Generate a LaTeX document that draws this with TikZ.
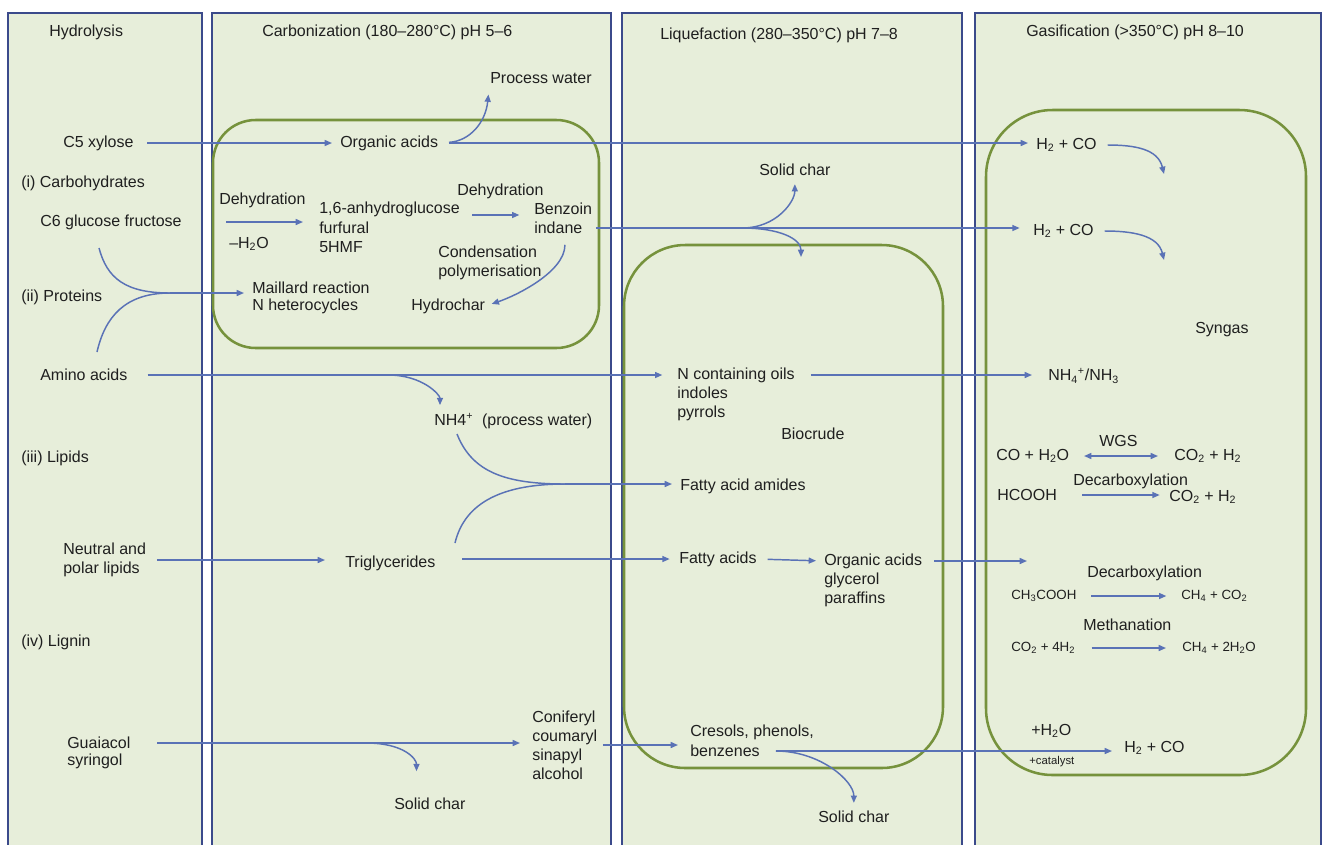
\documentclass[tikz,border=0pt]{standalone}
\usepackage{fontspec}
\setmainfont{Liberation Sans}
\usetikzlibrary{arrows.meta}
\definecolor{lanefill}{HTML}{E7EEDA}
\definecolor{laneblue}{HTML}{3B4A8B}
\definecolor{zonegreen}{HTML}{76923C}
\definecolor{flowblue}{HTML}{5A72B6}
\newcommand\chsub[1]{\textsubscript{#1}}
\newcommand\chsup[1]{\textsuperscript{#1}}
\tikzset{
  lane/.style={draw=laneblue, line width=1.5pt, fill=lanefill},
  zone/.style={draw=zonegreen, line width=1.9pt},
  lbl/.style={anchor=west, inner sep=0pt, align=left, text=black!88,
              font=\fontsize{12}{14.3}\selectfont},
  lblsmall/.style={lbl, font=\fontsize{10}{12}\selectfont},
  link/.style={draw=flowblue, line width=1.1pt},
  flow/.style={link, -{Triangle[length=5.5pt,width=4.5pt]},
               shorten <=8pt, shorten >=6pt},
  equil/.style={flow, {Triangle[length=5.5pt,width=4.5pt]}-{Triangle[length=5.5pt,width=4.5pt]}},
}

\begin{document}
\begin{tikzpicture}[x=0.75pt, y=-0.75pt]
\useasboundingbox (0,0) rectangle (1328,844);
% lanes
\begin{scope}
  \clip (0,0) rectangle (1328,844);
  \foreach \xa/\xb in {8/202, 212/611, 622/962, 975/1321}
    \draw[lane] (\xa,13) rectangle (\xb,860);
\end{scope}
\draw[zone, rounded corners=32pt] (213,120) rectangle (599,348);
\draw[zone, rounded corners=46pt] (624,245) rectangle (943,768);
\draw[zone, rounded corners=50pt] (986,110) rectangle (1306,775);

% headers
\node[lbl] (hyd) at (49,32) {Hydrolysis};
\node[lbl] (carb) at (262,32) {Carbonization (180–280°C) pH 5–6};
\node[lbl] (liq) at (660,35) {Liquefaction (280–350°C) pH 7–8};
\node[lbl] (gas) at (1026,32) {Gasification (>350°C) pH 8–10};

% hydrolysis
\node[lbl] (xyl) at (63,143) {C5 xylose};
\node[lbl] (chy) at (21,183) {(i) Carbohydrates};
\node[lbl] (glu) at (40,222) {C6 glucose fructose};
\node[lbl] (pro) at (21,297) {(ii) Proteins};
\node[lbl] (amino) at (40,375) {Amino acids};
\node[lbl] (lip) at (21,458) {(iii) Lipids};
\node[lbl] (nlip) at (63,560) {Neutral and\\polar lipids};
\node[lbl] (lig) at (21,642) {(iv) Lignin};
\node[lbl] (guai) at (67,743) {Guaiacol};
\node[lbl] (syr) at (67,761) {syringol};

% carbonization
\node[lbl] (pw) at (490,78) {Process water};
\node[lbl] (oac) at (340,143) {Organic acids};
\node[lbl] (dh1) at (219,200) {Dehydration};
\node[lbl] (mh2o) at (229,244) {–H\chsub{2}O};
\node[lbl] (anh) at (319,209) {1,6-anhydroglucose};
\node[lbl] (fur) at (319,228) {furfural};
\node[lbl] (hmf) at (319,247) {5HMF};
\node[lbl] (dh2) at (457,191) {Dehydration};
\node[lbl] (benz) at (534,209) {Benzoin};
\node[lbl] (ind) at (534,228) {indane};
\node[lbl] (cond) at (438,263) {Condensation\\polymerisation};
\node[lbl] (mail) at (252,288) {Maillard reaction};
\node[lbl] (nhet) at (252,306) {N heterocycles};
\node[lbl] (hchar) at (411,306) {Hydrochar};
\node[lbl] (nh4) at (434,421) {NH4\chsup{+}\ \ (process water)};
\node[lbl] (tri) at (345,563) {Triglycerides};
\node[lbl] (char2) at (394,804) {Solid char};
\node[lbl] (conif) at (532,745) {Coniferyl\\coumaryl\\sinapyl\\alcohol};

% liquefaction
\node[lbl] (char1) at (759,170) {Solid char};
\node[lbl] (nco) at (677,375) {N containing oils};
\node[lbl] (indo) at (677,404) {indoles\\pyrrols};
\node[lbl] (bio) at (781,434) {Biocrude};
\node[lbl] (faa) at (680,486) {Fatty acid amides};
\node[lbl] (fa) at (679,559) {Fatty acids};
\node[lbl] (oal) at (824,561) {Organic acids};
\node[lbl] (gly) at (824,590) {glycerol\\paraffins};
\node[lbl] (cres) at (690,732) {Cresols, phenols,};
\node[lbl] (benzn) at (690,751) {benzenes};
\node[lbl] (char3) at (818,817) {Solid char};

% gasification
\node[lbl] (syn1) at (1036,145) {H\chsub{2} + CO};
\node[lbl] (syn2) at (1033,231) {H\chsub{2} + CO};
\node[lbl] (syngas) at (1195,330) {Syngas};
\node[lbl] (nh3) at (1048,376) {NH\chsub{4}\chsup{+}/NH\chsub{3}};
\node[lbl] (wgs) at (1099,441) {WGS};
\node[lbl] (coh) at (996,456) {CO + H\chsub{2}O};
\node[lbl] (coa) at (1174,456) {CO\chsub{2} + H\chsub{2}};
\node[lbl] (dcx1) at (1073,481) {Decarboxylation};
\node[lbl] (hco) at (997,495) {HCOOH};
\node[lbl] (cob) at (1169,497) {CO\chsub{2} + H\chsub{2}};
\node[lbl] (dcx2) at (1087,573) {Decarboxylation};
\node[lblsmall] (ace) at (1011,596) {CH\chsub{3}COOH};
\node[lblsmall] (mch) at (1181,596) {CH\chsub{4} + CO\chsub{2}};
\node[lbl] (meth) at (1083,625) {Methanation};
\node[lblsmall] (coc) at (1011,648) {CO\chsub{2} + 4H\chsub{2}};
\node[lblsmall] (mcw) at (1182,648) {CH\chsub{4} + 2H\chsub{2}O};
\node[lbl] (addw) at (1031,731) {+H\chsub{2}O};
\node[lbl, font=\fontsize{8.5}{10}\selectfont] (cat) at (1029,762) {+catalyst};
\node[lbl] (syn3) at (1124,748) {H\chsub{2} + CO};

% free ends and branch points
\coordinate (sg1) at (1164,174);
\coordinate (sg2) at (1164,260);
\coordinate (liqin) at (801,257);
\coordinate (gin) at (1027,561);
\coordinate (dha) at (226,222);
\coordinate (br1) at (742,228);
\coordinate (gluc) at (99,248);
\coordinate (amic) at (97,352);
\coordinate (mg1) at (170,293);
\coordinate (br2) at (388,375);
\coordinate (nh4c) at (457,434);
\coordinate (tric) at (455,543);
\coordinate (mg2) at (565,484);
\coordinate (br3) at (366,743);

% carbohydrates
\draw[flow, shorten <=10pt] (xyl.east) -- (xyl.east -| oac.west);
\draw[flow, shorten >=2pt] (oac.east) .. controls +(32,-2) and +(-3,30) .. ([xshift=-1pt, yshift=-6pt]pw.south west);
\draw[flow] (oac.east) -- (oac.east -| syn1.west);
\draw[flow, shorten >=0pt] (syn1.east) .. controls +(38,0) and +(-6,-25) .. (sg1);
\draw[flow, shorten <=0pt, shorten >=12pt] (dha) -- (dha -| anh.west);
\draw[flow, shorten <=9pt, shorten >=11pt] ([yshift=-4.5pt]anh.east) -- ([yshift=-4.5pt]anh.east -| benz.west);
\draw[flow, shorten >=5pt] ([xshift=5pt]ind.south) .. controls +(0,38) and +(30,-10) .. (hchar.east);
\draw[flow, shorten <=10pt, shorten >=10pt] (ind.east) -- (ind.east -| syn2.west);
\draw[flow, shorten <=0pt] (br1) .. controls +(35,0) and +(0,25) .. (char1.south);
\draw[flow, shorten <=0pt, shorten >=0pt] (br1) .. controls +(38,0) and +(0,-18) .. (liqin);
\draw[flow, shorten >=0pt] (syn2.east) .. controls +(38,0) and +(-6,-25) .. (sg2);

% proteins
\draw[link] (gluc) .. controls +(8,30) and +(-45,0) .. (mg1);
\draw[link] (amic) .. controls +(8,-35) and +(-45,0) .. (mg1);
\draw[flow, shorten <=0pt] (mg1) -- (mg1 -| mail.west);
\draw[flow, shorten <=15pt, shorten >=11pt] (amino.east) -- (amino.east -| nco.west);
\draw[flow, shorten <=0pt] (br2) .. controls +(35,0) and +(0,-18) .. ([xshift=4.5pt]nh4.north west);
\draw[flow, shorten <=12pt, shorten >=12pt] (nco.east) -- (nco.east -| nh3.west);

% lipids
\draw[link] (nh4c) .. controls +(15,38) and +(-60,0) .. (mg2);
\draw[link] (tric) .. controls +(10,-42) and +(-60,0) .. (mg2);
\draw[flow, shorten <=0pt] (mg2) -- (mg2 -| faa.west);
\draw[flow, shorten >=15pt] (nlip.east) -- (nlip.east -| tri.west);
\draw[flow, shorten <=20pt, shorten >=7pt] ([yshift=3pt]tri.east) -- ([yshift=3pt]tri.east -| fa.west);
\draw[flow] (fa.east) -- (oal.west);
\draw[flow, shorten <=9pt, shorten >=0pt] (oal.east) -- (gin);

% gas phase reactions
\draw[equil, shorten <=11pt, shorten >=12pt] (coh.east) -- (coh.east -| coa.west);
\draw[flow, shorten <=19pt, shorten >=7pt] (hco.east) -- (hco.east -| cob.west);
\draw[flow, shorten <=11pt, shorten >=11pt] (ace.east) -- (ace.east -| mch.west);
\draw[flow, shorten <=12pt, shorten >=12pt] (coc.east) -- (coc.east -| mcw.west);

% lignin
\draw[flow, shorten <=20pt, shorten >=9pt] (guai.east) -- (guai.east -| conif.west);
\draw[flow, shorten <=0pt, shorten >=2pt] (br3) .. controls +(38,0) and +(0,-15) .. ([xshift=-10pt, yshift=18pt]char2.north);
\draw[flow, shorten <=4pt, shorten >=9pt] (conif.east) -- (conif.east -| cres.west);
\draw[flow, shorten <=12pt, shorten >=9pt] (benzn.east) -- (benzn.east -| syn3.west);
\draw[flow, shorten <=12pt] (benzn.east) .. controls +(60,0) and +(0,-30) .. (char3.north);
\end{tikzpicture}
\end{document}
